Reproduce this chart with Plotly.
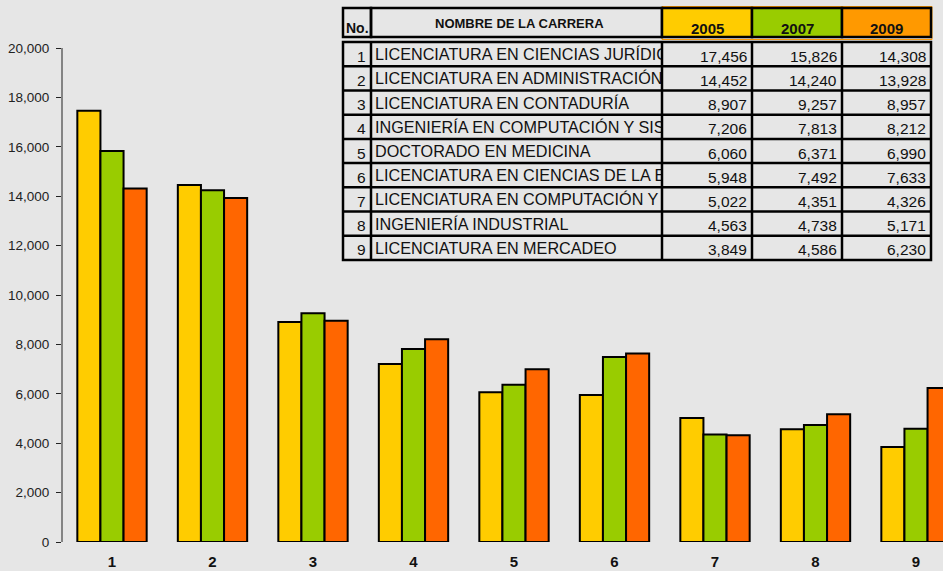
import plotly.graph_objects as go

# ---- data -------------------------------------------------------------
years = ["2005", "2007", "2009"]
carrera_no = [1, 2, 3, 4, 5, 6, 7, 8, 9]
carreras = [
    "LICENCIATURA EN CIENCIAS JURÍDIC",
    "LICENCIATURA EN ADMINISTRACIÓN",
    "LICENCIATURA EN CONTADURÍA",
    "INGENIERÍA EN COMPUTACIÓN Y SIS",
    "DOCTORADO EN MEDICINA",
    "LICENCIATURA EN CIENCIAS DE LA E",
    "LICENCIATURA EN COMPUTACIÓN Y",
    "INGENIERÍA INDUSTRIAL",
    "LICENCIATURA EN MERCADEO",
]
inscritos_2005 = [17456, 14452, 8907, 7206, 6060, 5948, 5022, 4563, 3849]
inscritos_2007 = [15826, 14240, 9257, 7813, 6371, 7492, 4351, 4738, 4586]
inscritos_2009 = [14308, 13928, 8957, 8212, 6990, 7633, 4326, 5171, 6230]
series = [inscritos_2005, inscritos_2007, inscritos_2009]

bar_colors = ["#FFCC00", "#99CC00", "#FF6600"]
header_colors = ["#FFCC00", "#99CC00", "#FF9900"]

# ---- page geometry (pixels) --------------------------------------------
W, H = 943, 571
LEFT = 62            # y axis position
PLOT_BOTTOM = 542    # baseline of the bars
Y_TOP_VALUE = 20000
Y_TOP_PX = 48
y_max = Y_TOP_VALUE * PLOT_BOTTOM / (PLOT_BOTTOM - Y_TOP_PX)

FONT = "Liberation Sans, Arial, Helvetica, sans-serif"
TXT = "#111111"
BG = "#E6E6E6"

# table layout in pixels
COLS = [343, 371, 662, 752, 842, 931]
HEAD_TOP, HEAD_BOTTOM = 8, 37
BODY_TOP, BODY_BOTTOM = 42, 260
ROW_H = (BODY_BOTTOM - BODY_TOP) / len(carrera_no)

fig = go.Figure()

# ---- bars ----------------------------------------------------------------
for year, vals, col in zip(years, series, bar_colors):
    fig.add_trace(go.Bar(
        x=carrera_no, y=vals, name=year,
        marker=dict(color=col, line=dict(color="#000000", width=2)),
        cliponaxis=True, hoverinfo="x+y+name",
    ))

# ---- career names, clipped to their column ------------------------------
row_centers = [BODY_TOP + ROW_H * (i + 0.5) + 2 for i in range(len(carrera_no))]
fig.add_trace(go.Scatter(
    x=[COLS[1] + 4] * len(carreras), y=row_centers,
    text=carreras, mode="text", textposition="middle right",
    textfont=dict(family=FONT, size=16.2, color=TXT),
    xaxis="x3", yaxis="y3", cliponaxis=True, hoverinfo="skip",
    showlegend=False,
))

shapes = []
annotations = []

def line(x0, y0, x1, y1, color="#000000", width=2.5):
    shapes.append(dict(type="line", xref="x2", yref="y2", x0=x0, y0=y0,
                       x1=x1, y1=y1, line=dict(color=color, width=width)))

def rect(x0, y0, x1, y1, fill=None, color="#000000", width=2.5):
    shapes.append(dict(type="rect", xref="x2", yref="y2", x0=x0, y0=y0,
                       x1=x1, y1=y1, fillcolor=fill or "rgba(0,0,0,0)",
                       line=dict(color=color, width=width)))

def text(x, y, s, anchor="center", size=15.5, bold=False):
    annotations.append(dict(
        xref="x2", yref="y2", x=x, y=y, text=s, showarrow=False,
        xanchor=anchor, yanchor="middle",
        font=dict(family=FONT, size=size, color=TXT,
                  weight="bold" if bold else "normal"),
    ))

# header row
rect(COLS[2], HEAD_TOP - 1.5, COLS[5] + 1, HEAD_BOTTOM + 2.5,
     color="#FF9900", width=1)
rect(COLS[0], HEAD_TOP, COLS[1], HEAD_BOTTOM)
rect(COLS[1], HEAD_TOP, COLS[2], HEAD_BOTTOM)
for k, (year, hc) in enumerate(zip(years, header_colors)):
    rect(COLS[2 + k], HEAD_TOP, COLS[3 + k], HEAD_BOTTOM, fill=hc)
    text((COLS[2 + k] + COLS[3 + k]) / 2, 28, year, size=15, bold=True)
text(COLS[0] + 1, 27.5, "No.", anchor="left", size=14, bold=True)
text((COLS[1] + COLS[2]) / 2 + 3, 23.5, "NOMBRE DE LA CARRERA", size=13, bold=True)

# body grid
rect(COLS[0], BODY_TOP, COLS[5], BODY_BOTTOM)
for cx in COLS[1:5]:
    line(cx, BODY_TOP, cx, BODY_BOTTOM)
for i in range(1, len(carrera_no)):
    yy = BODY_TOP + ROW_H * i
    line(COLS[0], yy, COLS[5], yy)

# body values
for i, no in enumerate(carrera_no):
    yc = row_centers[i]
    text(COLS[1] - 3, yc, str(no), anchor="right")
    for k, vals in enumerate(series):
        text(COLS[3 + k] - 3, yc, f"{vals[i]:,}", anchor="right")

# y axis line, stopping at the top tick
shapes.append(dict(type="line", xref="paper", yref="y", x0=0, x1=0,
                   y0=0, y1=Y_TOP_VALUE, line=dict(color="#222222", width=1)))

# ---- layout -------------------------------------------------------------
cat_w = 100.5
x_lo = 1 - (112 - LEFT) / cat_w
x_hi = 1 + (W - 112) / cat_w
name_dom = [(COLS[1] - LEFT) / (W - LEFT), (COLS[2] - LEFT) / (W - LEFT)]

fig.update_layout(
    width=W, height=H,
    margin=dict(l=LEFT, r=0, t=0, b=H - PLOT_BOTTOM, pad=0),
    paper_bgcolor=BG, plot_bgcolor="rgba(0,0,0,0)",
    barmode="group", bargap=0.31, bargroupgap=0,
    showlegend=False,
    xaxis=dict(range=[x_lo, x_hi], domain=[0, 1], tickvals=carrera_no,
               ticktext=[str(n) for n in carrera_no], ticks="",
               showline=False, showgrid=False, zeroline=False,
               ticklabelstandoff=9,
               tickfont=dict(family=FONT, size=15, color=TXT, weight="bold")),
    yaxis=dict(range=[0, y_max], domain=[0, 1], tick0=0, dtick=2000,
               tickformat=",d", ticks="outside", ticklen=5, tickwidth=1,
               tickcolor="#222222", showline=False, showgrid=False,
               zeroline=False, ticklabelstandoff=4,
               tickfont=dict(family=FONT, size=13.5, color="#222222")),
    xaxis2=dict(range=[LEFT, W], domain=[0, 1], anchor="y2", visible=False,
                fixedrange=True),
    yaxis2=dict(range=[PLOT_BOTTOM, 0], domain=[0, 1], anchor="x2",
                visible=False, fixedrange=True),
    xaxis3=dict(range=[COLS[1], COLS[2]], domain=name_dom, anchor="y3",
                visible=False, fixedrange=True),
    yaxis3=dict(range=[PLOT_BOTTOM, 0], domain=[0, 1], anchor="x3",
                visible=False, fixedrange=True),
    shapes=shapes,
    annotations=annotations,
)

fig.write_html("out.html")
